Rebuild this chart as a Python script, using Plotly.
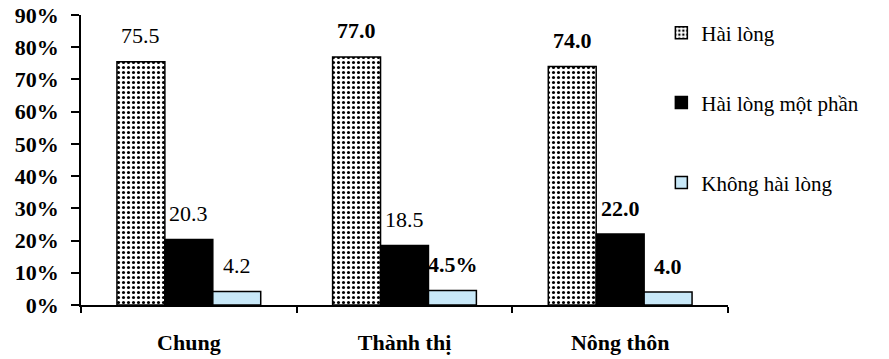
import plotly.graph_objects as go

categories = ["Chung", "Thành thị", "Nông thôn"]
series_names = ["Hài lòng", "Hài lòng một phần", "Không hài lòng"]
hai_long = [75.5, 77.0, 74.0]
mot_phan = [20.3, 18.5, 22.0]
khong = [4.2, 4.5, 4.0]
label_texts = [["75.5", "77.0", "74.0"], ["20.3", "18.5", "22.0"], ["4.2", "4.5%", "4.0"]]
y_ticks = [0, 10, 20, 30, 40, 50, 60, 70, 80, 90]
y_tick_labels = ["0%", "10%", "20%", "30%", "40%", "50%", "60%", "70%", "80%", "90%"]

values = [hai_long, mot_phan, khong]
label_bold = [[False, True, True], [False, False, True], [False, True, True]]
SERIF = "Liberation Serif"

fig = go.Figure()
legend_ids = ["legend", "legend2", "legend3"]
styles = [
    dict(color="white", pattern=dict(shape=".", fgcolor="black", bgcolor="white", size=5, solidity=0.3, fillmode="replace")),
    dict(color="black"),
    dict(color="#C8E8F8"),
]
for i in range(3):
    m = dict(styles[i])
    m["line"] = dict(color="black", width=1.5)
    fig.add_trace(go.Bar(x=categories, y=values[i], name=series_names[i], marker=m,
                         legend=legend_ids[i], showlegend=True))

# data labels
bar_px = 48
for i in range(3):
    for j, c in enumerate(categories):
        t = label_texts[i][j]
        if label_bold[i][j]:
            t = "<b>" + t + "</b>"
        fig.add_annotation(x=c, y=values[i][j], text=t, showarrow=False,
                           xshift=(i - 1) * bar_px, yshift=26, yanchor="middle",
                           font=dict(family=SERIF, size=22, color="black"))

leg_common = dict(font=dict(family=SERIF, size=21, color="black"), bgcolor="rgba(0,0,0,0)",
                  xanchor="left", yanchor="middle", x=0.897)
fig.update_layout(
    barmode="group", bargap=1/3, bargroupgap=0,
    width=889, height=359,
    margin=dict(l=81, r=161, t=15, b=54, autoexpand=False),
    paper_bgcolor="white", plot_bgcolor="white",
    font=dict(family=SERIF, color="black"),
    legend=dict(**leg_common, y=0.938),
    legend2=dict(**leg_common, y=0.697),
    legend3=dict(**leg_common, y=0.421),
)
fig.update_yaxes(range=[0, 90], tickvals=y_ticks, ticktext=["<b>" + s + "</b>" for s in y_tick_labels],
                 showgrid=False, zeroline=False,
                 showline=True, linecolor="black", linewidth=1.5, ticks="outside", ticklen=8,
                 tickcolor="black", tickwidth=1.5, ticklabelstandoff=8, automargin=False,
                 tickfont=dict(family=SERIF, size=22, color="black"))
fig.update_xaxes(showline=True, linecolor="black", linewidth=1.5, ticks="outside", ticklen=6,
                 tickcolor="black", tickwidth=1.5, tickson="boundaries", showgrid=False,
                 ticklabelstandoff=17, automargin=False,
                 tickvals=categories, ticktext=["<b>" + c + "</b>" for c in categories],
                 tickfont=dict(family=SERIF, size=22, color="black"))

fig.write_html("out.html", config={"displayModeBar": False},
               post_script="document.body.style.margin='0';")
